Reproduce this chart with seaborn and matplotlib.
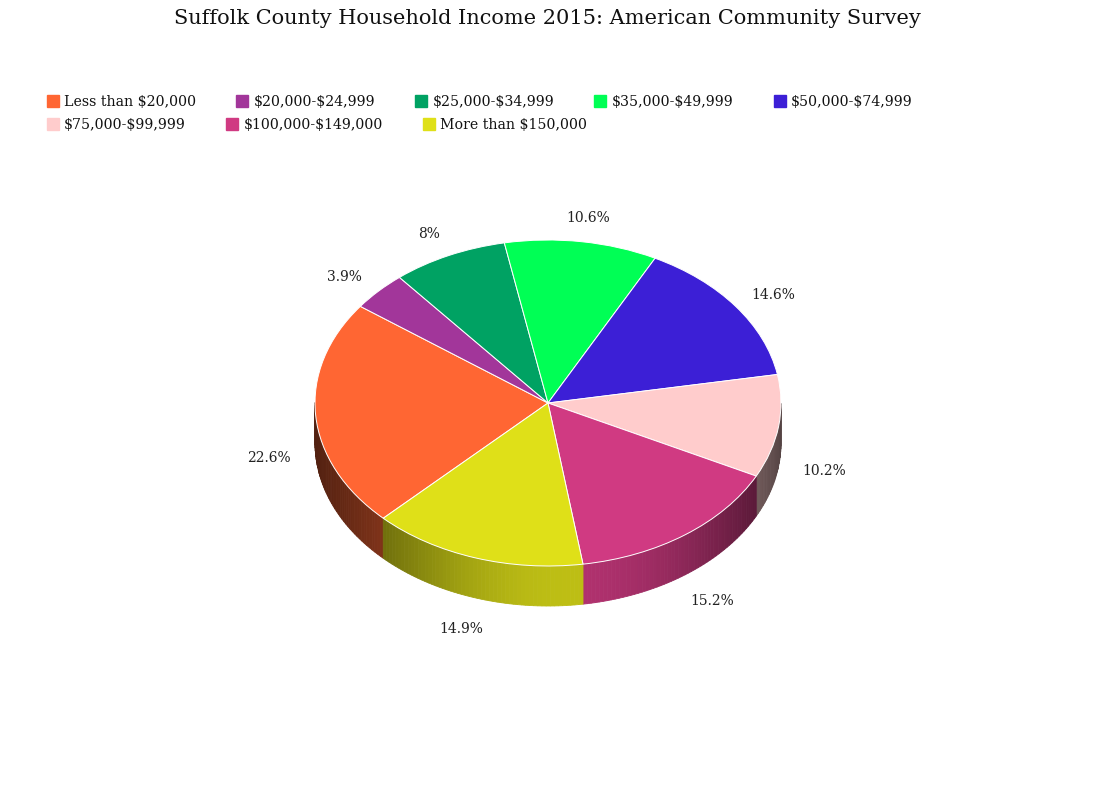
#!/usr/bin/env python3

import numpy as np
import matplotlib
matplotlib.use("Agg")
import matplotlib.pyplot as plt
import seaborn as sns
from matplotlib.lines import Line2D

# data
categories = ["Less than $20,000", "$20,000-$24,999", "$25,000-$34,999",
              "$35,000-$49,999", "$50,000-$74,999", "$75,000-$99,999",
              "$100,000-$149,000", "More than $150,000"]
shares = [22.6, 3.9, 8.0, 10.6, 14.6, 10.2, 15.2, 14.9]
colors = ["#ff6633", "#a2369a", "#00a263", "#00ff55",
          "#3c1fd6", "#ffcccc", "#d03a82", "#dfe018"]
title = "Suffolk County Household Income 2015: American Community Survey"

sns.set_theme(style="white")
plt.rcParams["font.family"] = ["DejaVu Serif"]

W, H = 1095, 805
cx, cy, rx, ry = 548, 403, 233, 163   # pie centre / radii in pixels
depth = 40 / ry                       # side wall height in y units
start = 225

fig = plt.figure(figsize=(W / 100, H / 100), dpi=100)
ax = fig.add_axes([0, 0, 1, 1])
palette = sns.color_palette(colors)

# side wall of the "3D" pie, shaded darker towards the edges
def shade(t):
    return 0.3 + 0.55 * np.exp(-((t - 275) / 50) ** 2)

total = sum(shares)
a_hi = start
for val, col in zip(shares, palette):
    span = 360 * val / total
    a_lo = a_hi - span
    ts = np.linspace(a_lo, a_hi, max(int(span), 2) + 1)
    for t0, t1 in zip(ts[:-1], ts[1:]):
        tm = (t0 + t1) / 2
        if np.sin(np.radians(tm)) >= 0:
            continue
        c = np.clip(np.array(col) * shade(tm % 360), 0, 1)
        r0, r1 = np.radians(t0), np.radians(t1)
        xs = [np.cos(r0), np.cos(r1), np.cos(r1), np.cos(r0)]
        ys = [np.sin(r0), np.sin(r1), np.sin(r1) - depth, np.sin(r0) - depth]
        ax.fill(xs, ys, color=c, lw=0.6, zorder=1)
    a_hi = a_lo

wedges, texts, autotexts = ax.pie(
    shares, colors=palette, startangle=start, counterclock=False,
    autopct=lambda p: f"{round(p, 1):g}%", pctdistance=1.2,
    wedgeprops=dict(edgecolor="#ffffff", linewidth=0.7, zorder=2),
    textprops=dict(fontsize=10, color="#222222"))

# labels under the rim sit below the side wall; the upper ones drop a touch
for t in autotexts:
    x, y = t.get_position()
    t.set_position((x, y - depth if y < 0 else y - 0.05))

ax.set_aspect("auto")
ax.set_xlim(-cx / rx, (W - cx) / rx)
ax.set_ylim(-(H - cy) / ry, cy / ry)
ax.axis("off")

fig.text(0.5, 1 - 18 / H, title, ha="center", va="center",
         fontsize=15, color="#111111")

# legend laid out as two flowing rows
handles = [Line2D([], [], marker="s", ls="", markersize=8.5, color=c)
           for c in palette]
labels = [c.replace("$", r"\$") for c in categories]
order = [[0, 1, 2, 3, 4], [5, 6, 7]]
for row, idx in enumerate(order):
    fig.legend([handles[i] for i in idx], [labels[i] for i in idx],
               loc="center left", bbox_to_anchor=(40 / W, 1 - (102 + 23 * row) / H),
               ncol=len(idx), frameon=False, fontsize=10.2,
               handlelength=0.8, handletextpad=0.4, columnspacing=2.85,
               borderpad=0, labelcolor="#111111")

fig.savefig("out.png", dpi=100)
